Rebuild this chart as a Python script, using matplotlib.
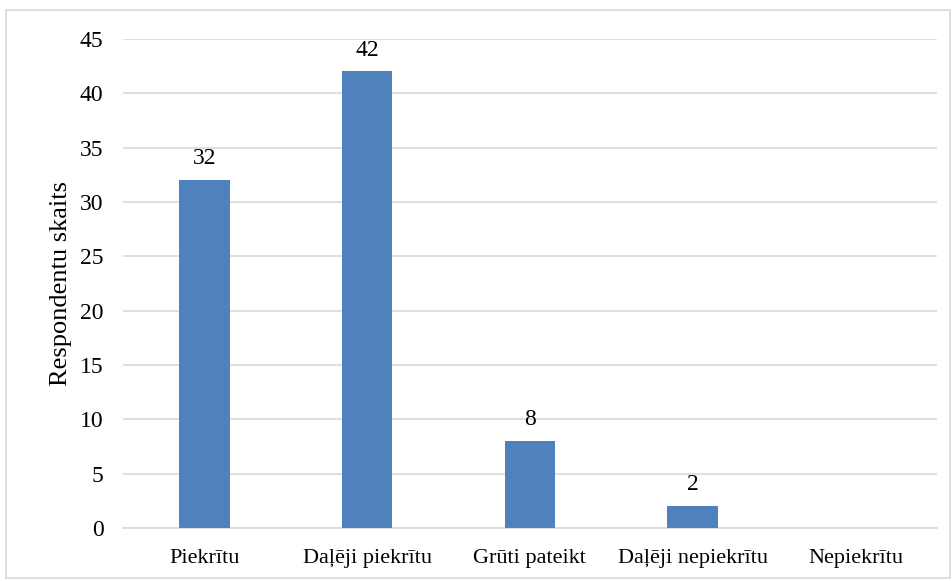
import matplotlib
matplotlib.use('Agg')
import matplotlib.pyplot as plt
from matplotlib.patches import Rectangle

categories = ['Piekrītu', 'Daļēji piekrītu', 'Grūti pateikt', 'Daļēji nepiekrītu', 'Nepiekrītu']
values = [32, 42, 8, 2, 0]
yticks = [0, 5, 10, 15, 20, 25, 30, 35, 40, 45]

plt.rcParams['font.family'] = ['Liberation Serif', 'DejaVu Serif']

fig = plt.figure(figsize=(9.53, 5.81), dpi=100)
ax = fig.add_axes([0.129, 0.0912, 0.854, 0.842])

x = list(range(len(categories)))
ax.bar(x, values, width=0.31, color='#4F81BD', zorder=3)
for xi, v in zip(x, values):
    if v > 0:
        ax.text(xi, v + 1.0, str(v), ha='center', va='bottom', fontsize=17)

ax.set_xlim(-0.5, len(categories) - 0.5)
ax.set_ylim(0, 45)
ax.set_yticks(yticks)
ax.set_xticks(x)
ax.set_xticklabels(categories, fontsize=16)
ax.tick_params(axis='y', labelsize=17, length=0, pad=14)
ax.tick_params(axis='x', length=0, pad=15)
ax.yaxis.grid(True, color='#D9D9D9', linewidth=1.2, zorder=0)
for s in ['top', 'right', 'left']:
    ax.spines[s].set_visible(False)
ax.spines['bottom'].set_color('#D9D9D9')
ax.spines['bottom'].set_linewidth(1.2)
ax.set_ylabel('Respondentu skaits', fontsize=19, labelpad=6)

fig.patches.append(Rectangle((0.006, 0.005), 0.991, 0.978, transform=fig.transFigure,
                             fill=False, edgecolor='#D9D9D9', linewidth=1.2))

fig.savefig('out.png', dpi=100)
